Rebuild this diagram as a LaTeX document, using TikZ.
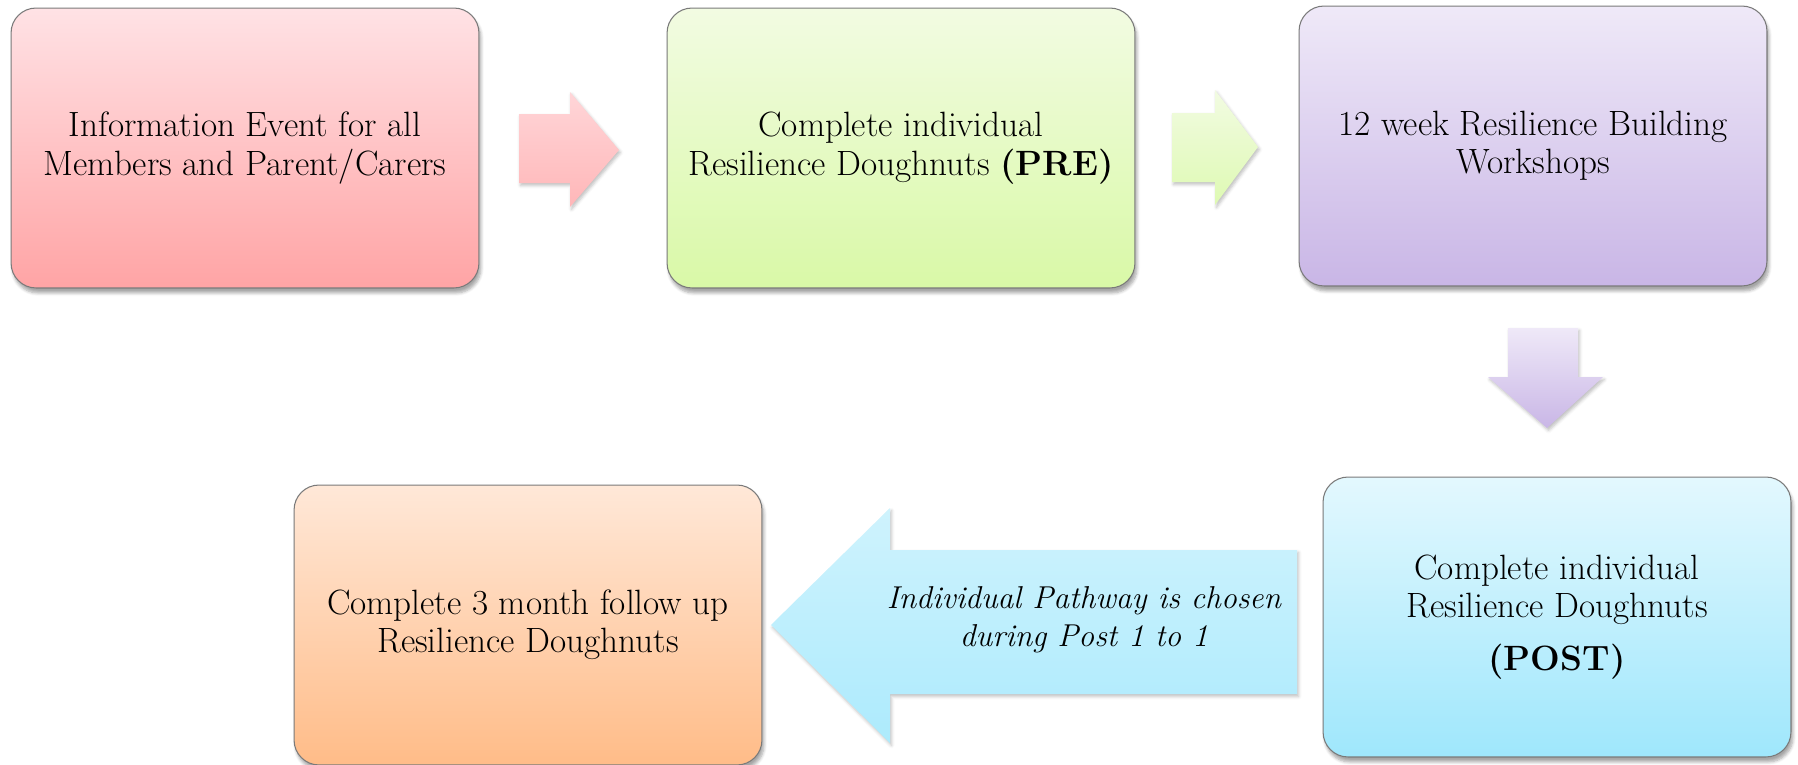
\documentclass[tikz,border=0pt]{standalone}
\usepackage{tikz}
\usetikzlibrary{shadows.blur}

\definecolor{infoTop}{HTML}{FFE2E5}
\definecolor{infoBot}{HTML}{FFA4A5}
\definecolor{preTop}{HTML}{F2FBE2}
\definecolor{preBot}{HTML}{D9F9A7}
\definecolor{workTop}{HTML}{EFE9F8}
\definecolor{workBot}{HTML}{C9B6E6}
\definecolor{postTop}{HTML}{E3F8FE}
\definecolor{postBot}{HTML}{9FE7FC}
\definecolor{followTop}{HTML}{FFE8D8}
\definecolor{followBot}{HTML}{FFBC88}
\definecolor{rimGray}{HTML}{7A7A7A}

\begin{document}
\begin{tikzpicture}[x=0.02cm, y=-0.02cm]
        \tikzstyle{every node} = [font=\fontsize{20}{21.8}\selectfont]
        \tikzstyle{stage} = [rectangle, rounded corners=0.5cm, draw=rimGray, line width=0.6pt,
            minimum width=9.36cm, minimum height=5.6cm, align=center,
            blur shadow={shadow xshift=0.04cm, shadow yshift=-0.1cm, shadow opacity=35, shadow blur steps=6}]
        \tikzstyle{blockarrow} = [blur shadow={shadow xshift=0.03cm, shadow yshift=-0.05cm, shadow opacity=25, shadow blur steps=4}]
        \useasboundingbox (0,0) rectangle (1798,764);
        \node[stage, top color=infoTop, bottom color=infoBot] (info) at (245,148) {Information Event for all\\Members and Parent/Carers};
        \node[stage, top color=preTop, bottom color=preBot] (pre) at (901,148) {Complete individual\\Resilience Doughnuts \textbf{(PRE)}};
        \node[stage, top color=workTop, bottom color=workBot] (work) at (1533,146) {12 week Resilience Building\\Workshops};
        \node[stage, top color=postTop, bottom color=postBot] (post) at (1557,617) {Complete individual\\Resilience Doughnuts\\[0.3cm]\textbf{(POST)}};
        \node[stage, top color=followTop, bottom color=followBot] (follow) at (528,625) {Complete 3 month follow up\\Resilience Doughnuts};
        % block arrows
        \path[blockarrow, top color=infoTop!80!infoBot, bottom color=infoBot!70!infoTop]
            (519,114) -- (570,114) -- (570,92) -- (619,150) -- (570,207) -- (570,183) -- (519,183) -- cycle;
        \path[blockarrow, top color=preTop, bottom color=preBot!80!preTop]
            (1172,113) -- (1215,113) -- (1215,90) -- (1258,147) -- (1215,205) -- (1215,182) -- (1172,182) -- cycle;
        \path[blockarrow, top color=workTop, bottom color=workBot]
            (1508,328) -- (1578,328) -- (1578,377) -- (1603,377) -- (1547,428) -- (1488,377) -- (1508,377) -- cycle;
        \path[blockarrow, top color=postTop!70!postBot, bottom color=postBot!80!postTop]
            (1297,550) -- (890,550) -- (890,508) -- (771,625) -- (890,743) -- (890,694) -- (1297,694) -- cycle;
        \node[font=\itshape\fontsize{18}{21.8}\selectfont, align=center] (pathway) at (1084,620) {Individual Pathway is chosen\\during Post 1 to 1};
    \end{tikzpicture}
\end{document}
